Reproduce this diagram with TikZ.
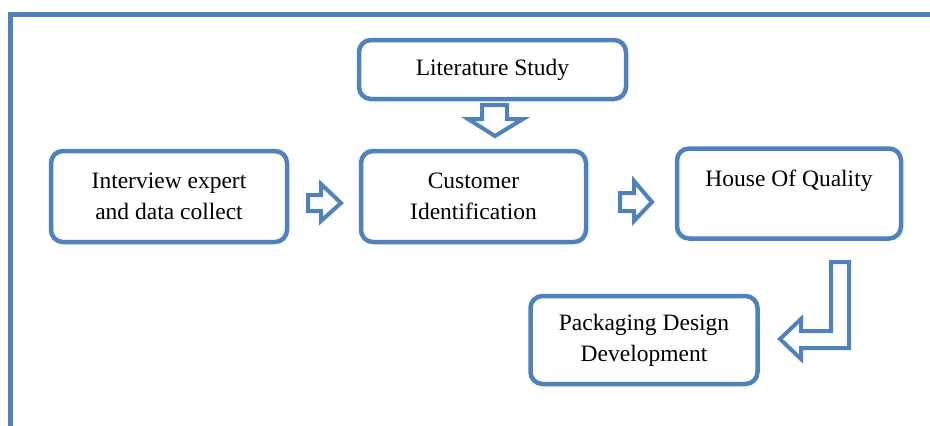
\documentclass[tikz,border=0pt]{standalone}
\usepackage{fontspec}
\setmainfont{Liberation Serif}
\definecolor{ofblue}{HTML}{4F81BD}
\begin{document}
\begin{tikzpicture}[x=1pt,y=-1pt,
  box/.style={draw=ofblue,line width=4.5pt,rounded corners=12pt,fill=white,
    align=center,inner sep=0pt,font=\fontsize{23.5}{31}\selectfont},
  boxtext/.style={inner sep=0pt,font=\fontsize{23.5}{31}\selectfont},
  blockarrow/.style={draw=ofblue,line width=4pt,fill=white,line join=miter},
  frame/.style={draw=ofblue,line width=5pt}]
\useasboundingbox (0,0) rectangle (930,426);
\fill[white] (0,0) rectangle (930,426);
\draw[frame] (10.5,426) -- (10.5,14.5) -- (930,14.5);

\node[box,minimum width=267pt,minimum height=59pt] (lit) at (492.5,69.5) {Literature Study};
\node[box,minimum width=236pt,minimum height=91pt] (int) at (169,196.5) {Interview expert\\and data collect};
\node[box,minimum width=225pt,minimum height=91pt] (cust) at (473.5,196.5) {Customer\\Identification};
\node[box,minimum width=224pt,minimum height=90pt] (hoq) at (789,193.5) {};
\node[boxtext] (hoqt) at (789,181) {House Of Quality};
\node[box,minimum width=227pt,minimum height=88pt] (pack) at (644,340) {Packaging Design\\Development};

% down arrow
\draw[blockarrow] (482,105) -- (507,105) -- (507,119) -- (523,119) -- (495,136) -- (468,119) -- (482,119) -- cycle;
% right arrows
\draw[blockarrow] (308,195) -- (321,195) -- (321,184) -- (341,203) -- (321,221) -- (321,211) -- (308,211) -- cycle;
\draw[blockarrow] (620,193) -- (634,193) -- (634,181) -- (652,202) -- (634,221) -- (634,211) -- (620,211) -- cycle;
% L arrow
\draw[blockarrow] (831,262) -- (849,262) -- (849,348) -- (801,348) -- (801,359) -- (780,339) -- (801,319) -- (801,331) -- (831,331) -- cycle;
\end{tikzpicture}
\end{document}
